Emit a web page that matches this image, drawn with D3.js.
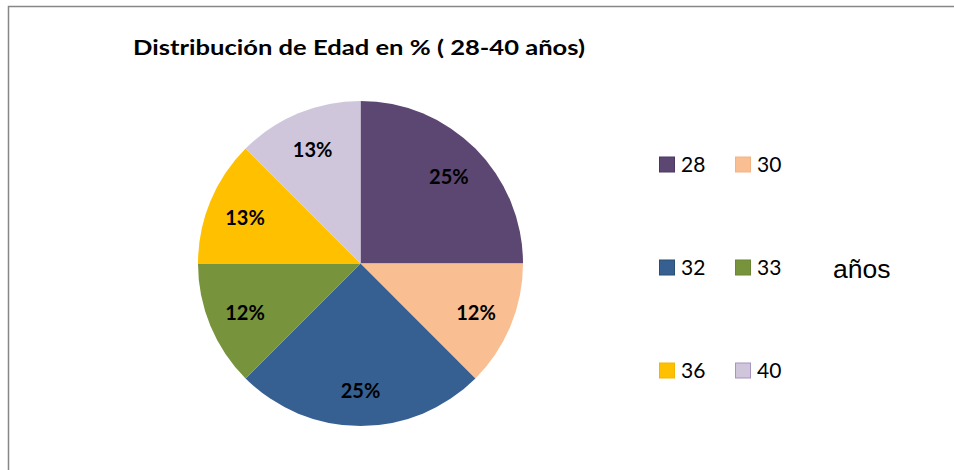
<!DOCTYPE html>
<html>
<head>
<meta charset="utf-8">
<script src="https://cdn.jsdelivr.net/npm/d3@7"></script>
<style>
  html, body { margin: 0; padding: 0; background: #fff; }
  svg { display: block; }
</style>
</head>
<body>
<svg id="chart" width="954" height="470"></svg>
<script>
const title = "Distribución de Edad en % ( 28-40 años)";
const categories = ["28", "30", "32", "33", "36", "40"];
const values = [2, 1, 2, 1, 1, 1];
const pctLabels = ["25%", "12%", "25%", "12%", "13%", "13%"];
const colors = ["#5C4672", "#F9BF92", "#376092", "#77933C", "#FFC000", "#CFC6DC"];
const legendStroke = ["#4A3860", "#F3B383", "#2A4E6E", "#6A8634", "#F2B600", "#A894C0"];
const unitLabel = "años";

const svg = d3.select("#chart");

// outer border
svg.append("rect")
  .attr("x", 8.5).attr("y", 6.5)
  .attr("width", 960).attr("height", 480)
  .attr("fill", "none").attr("stroke", "#878787").attr("stroke-width", 1.5);

// title
svg.append("text")
  .attr("x", 133).attr("y", 55)
  .attr("font-family", "Lato, 'Open Sans', sans-serif")
  .attr("font-weight", "bold")
  .attr("font-size", 20)
  .attr("textLength", 452)
  .attr("lengthAdjust", "spacingAndGlyphs")
  .attr("fill", "#000")
  .text(title);

const cx = 360.5, cy = 263.5, R = 162.5;
const pie = d3.pie().sort(null).value(d => d)(values);
const arc = d3.arc().innerRadius(0).outerRadius(R);
const labelArc = d3.arc().innerRadius(125).outerRadius(125);

const g = svg.append("g").attr("transform", `translate(${cx},${cy})`);
g.selectAll("path.slice").data(pie).enter().append("path")
  .attr("class", "slice")
  .attr("d", arc)
  .attr("fill", (d, i) => colors[i]);

g.selectAll("text.pct").data(pie).enter().append("text")
  .attr("class", "pct")
  .attr("transform", d => `translate(${labelArc.centroid(d)})`)
  .attr("text-anchor", "middle")
  .attr("dy", "0.45em")
  .attr("font-family", "Lato, 'Open Sans', sans-serif")
  .attr("font-weight", "bold")
  .attr("font-size", 20)
  .attr("fill", "#000")
  .text((d, i) => pctLabels[i]);

// legend: 2 columns x 3 rows
const colX = d3.scaleLinear().domain([0, 1]).range([659, 735]);
const rowY = d3.scaleLinear().domain([0, 2]).range([164.5, 370.5]);
const leg = svg.append("g");
categories.forEach((c, i) => {
  const x = colX(i % 2), y = rowY(Math.floor(i / 2));
  leg.append("rect")
    .attr("x", x + 0.5).attr("y", y - 7.5)
    .attr("width", 15).attr("height", 15)
    .attr("fill", colors[i])
    .attr("stroke", legendStroke[i]).attr("stroke-width", 1);
  leg.append("text")
    .attr("x", x + 22).attr("y", y)
    .attr("dy", "0.36em")
    .attr("font-family", "Lato, 'Open Sans', sans-serif")
    .attr("font-size", 21)
    .attr("fill", "#000")
    .text(c);
});

svg.append("text")
  .attr("x", 833).attr("y", 278)
  .attr("font-family", "'Liberation Sans', Arial, sans-serif")
  .attr("font-size", 26.5)
  .attr("fill", "#000")
  .text(unitLabel);
</script>
</body>
</html>
